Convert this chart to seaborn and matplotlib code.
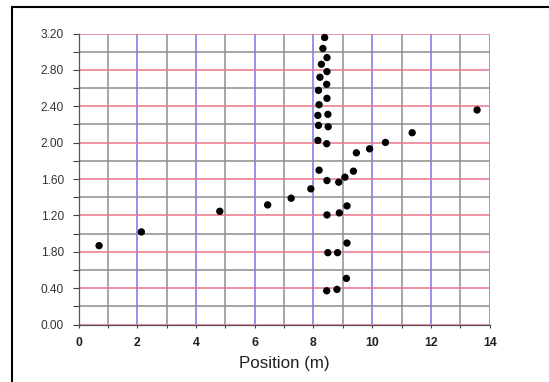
import matplotlib
matplotlib.use("Agg")
import matplotlib.pyplot as plt
from matplotlib.patches import Rectangle
from matplotlib.ticker import FixedLocator
import seaborn as sns
import pandas as pd

# Measured positions (m) and heights of each recorded point
position = [0.70, 2.14, 4.81, 6.44, 7.24, 7.91, 8.19, 8.46, 8.86, 9.07,
            9.36, 9.46, 9.91, 10.45, 11.36, 13.57, 8.15, 8.45, 8.17, 8.50,
            8.15, 8.49, 8.19, 8.46, 8.17, 8.45, 8.22, 8.46, 8.27, 8.46,
            8.32, 8.38, 8.46, 8.88, 9.14, 9.14, 8.49, 8.82, 9.12, 8.45, 8.80]
height = [0.867, 1.018, 1.245, 1.315, 1.389, 1.492, 1.697, 1.583, 1.565, 1.620,
          1.686, 1.888, 1.932, 2.002, 2.109, 2.359, 2.024, 1.988, 2.190, 2.175,
          2.300, 2.311, 2.417, 2.487, 2.575, 2.641, 2.719, 2.781, 2.862, 2.935,
          3.035, 3.156, 1.205, 1.227, 1.304, 0.896, 0.790, 0.790, 0.507, 0.371, 0.386]

x_ticks = [0, 2, 4, 6, 8, 10, 12, 14]
y_ticks = [0.0, 0.4, 0.8, 1.2, 1.6, 2.0, 2.4, 2.8, 3.2]
y_tick_labels = ["0.00", "0.40", "1.80", "1.20", "1.60", "2.00", "2.40", "2.80", "3.20"]
x_label = "Position (m)"

df = pd.DataFrame({"position": position, "height": height})

sns.set_style("white")
plt.rcParams["font.family"] = ["Liberation Sans", "DejaVu Sans"]

fig = plt.figure(figsize=(5.49, 3.82), dpi=100)
ax = fig.add_axes([0.143, 0.1505, 0.749, 0.7618])

red = "#e6788c"
blue = "#7676ee"
grey = "#8e8e8e"

ax.set_xlim(0, 14)
ax.set_ylim(0, 3.2)

# Major grid: even metres in blue, multiples of 0.4 in red; minor lines grey
ax.xaxis.set_major_locator(FixedLocator(x_ticks))
ax.xaxis.set_minor_locator(FixedLocator([1, 3, 5, 7, 9, 11, 13]))
ax.yaxis.set_major_locator(FixedLocator(y_ticks))
ax.yaxis.set_minor_locator(FixedLocator([0.2, 0.6, 1.0, 1.4, 1.8, 2.2, 2.6, 3.0]))

ax.grid(True, which="minor", axis="both", color=grey, lw=1.1)
ax.grid(True, which="major", axis="x", color=blue, lw=1.1)
ax.grid(True, which="major", axis="y", color=red, lw=1.1)
ax.set_axisbelow(True)

sns.scatterplot(data=df, x="position", y="height", ax=ax, color="black",
                s=28, edgecolor="none", zorder=5, clip_on=False)

ax.set_yticklabels(y_tick_labels)
ax.set_xticklabels([str(t) for t in x_ticks])

ax.tick_params(axis="y", which="both", direction="out", length=4.5, width=0.8,
               color="#444444", left=True, pad=6, labelsize=8.6, labelcolor="#333333")
ax.tick_params(axis="x", which="both", direction="out", length=2.5, width=0.8,
               color="#444444", bottom=True, pad=6.5, labelsize=8.8, labelcolor="#222222")
for lbl in ax.get_xticklabels():
    lbl.set_fontweight("bold")

for side in ["top", "right"]:
    ax.spines[side].set_visible(False)
for side in ["left", "bottom"]:
    ax.spines[side].set_color("#555555")
    ax.spines[side].set_linewidth(0.9)

ax.set_xlabel(x_label, fontsize=12.2, color="#222222", labelpad=5)
ax.set_ylabel("")

# Outer frame around the figure
fig.patches.append(Rectangle((11.5 / 549, -0.1), 1.2, (382 - 6.5) / 382 + 0.1,
                             transform=fig.transFigure, fill=False,
                             edgecolor="black", lw=1.5))

fig.savefig("out.png", dpi=100)
